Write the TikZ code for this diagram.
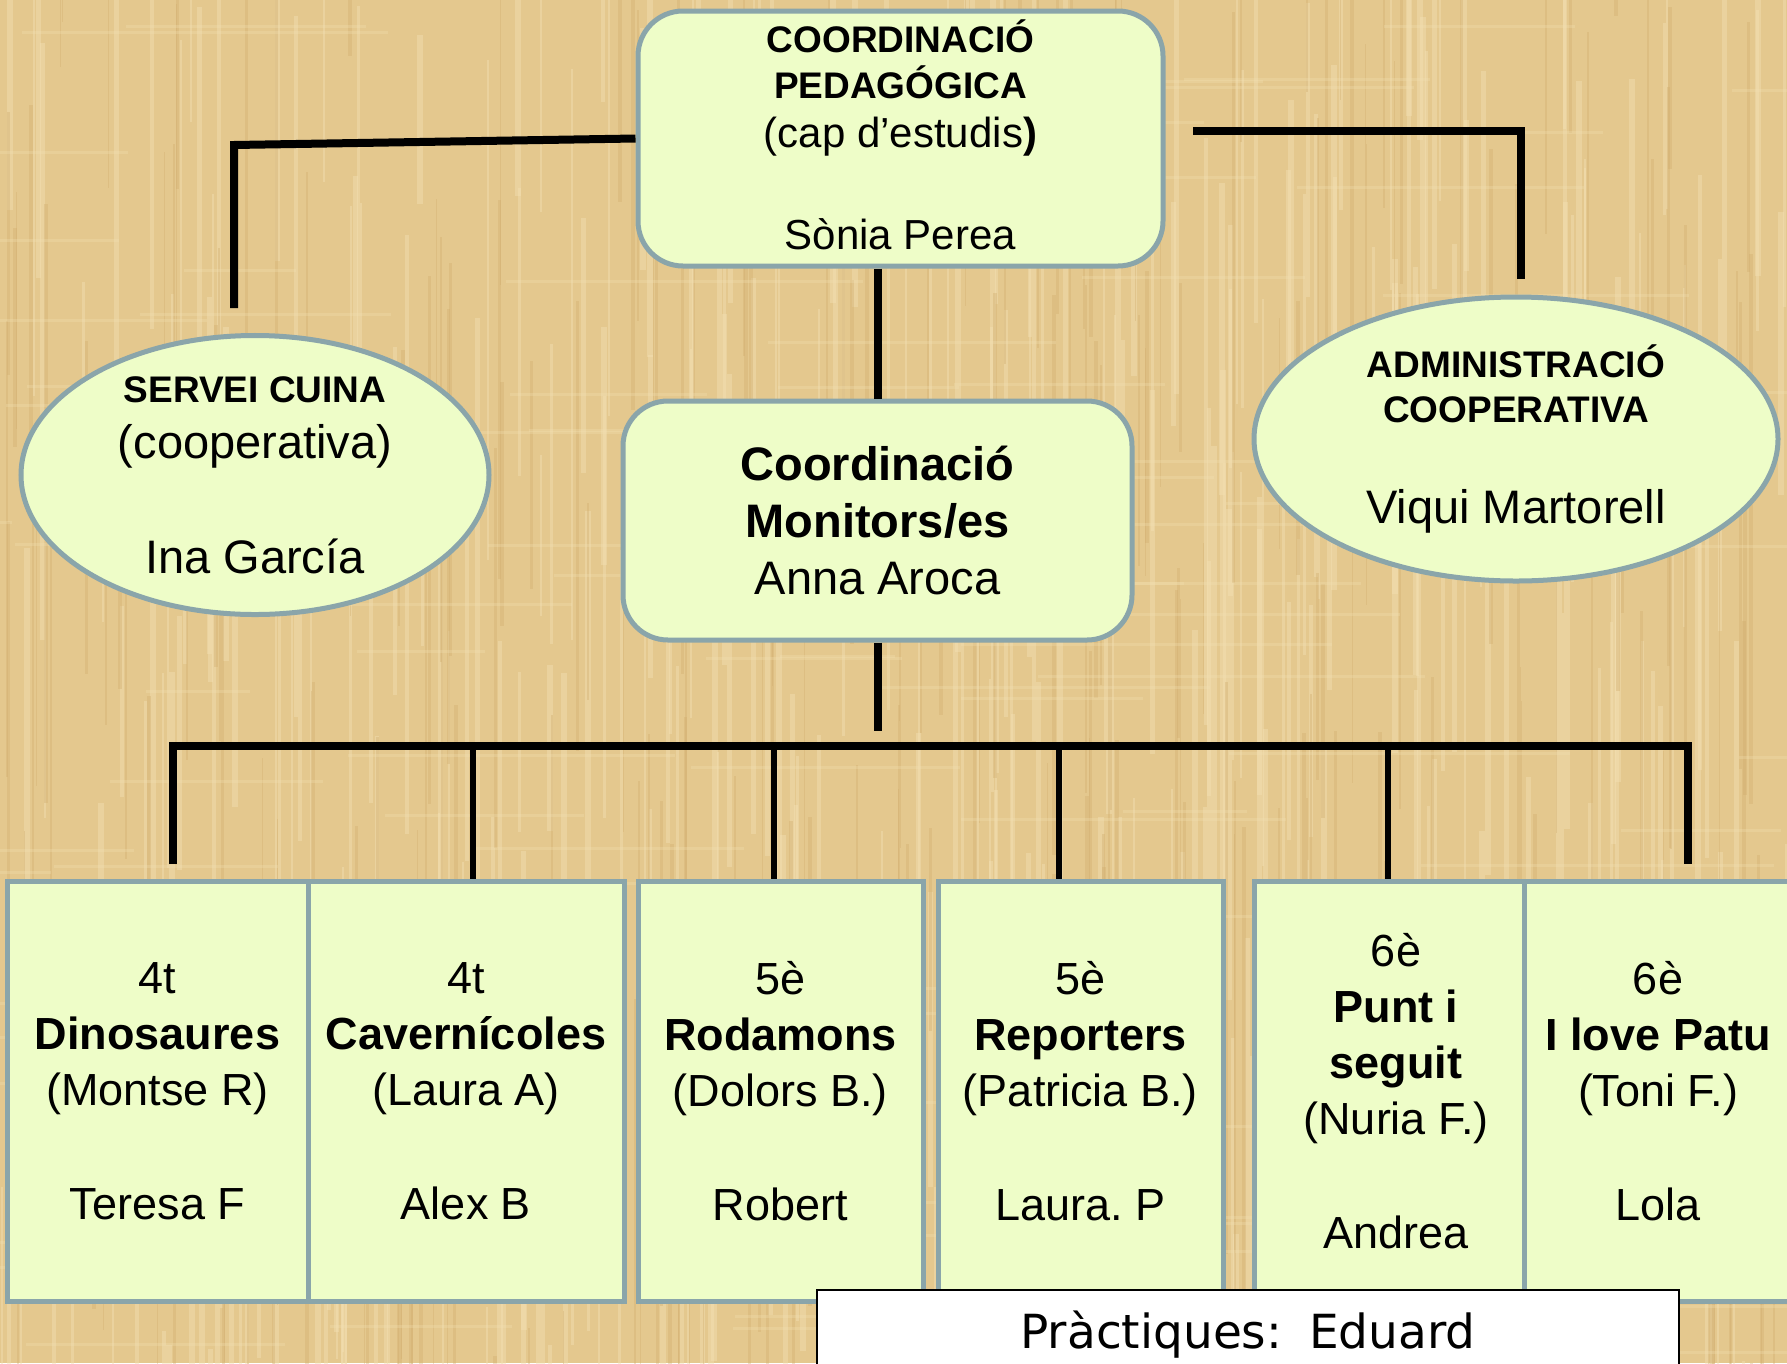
\documentclass[tikz,border=0pt]{standalone}
\usepackage{fontspec}
\setmainfont{Liberation Sans}
\newfontfamily\notefont{DejaVu Sans}
\usetikzlibrary{shapes.geometric}

\definecolor{papyrus}{RGB}{228,200,142}
\definecolor{papyruslight}{RGB}{243,224,178}
\definecolor{papyrusdark}{RGB}{208,172,108}
\definecolor{boxfill}{RGB}{238,253,200}
\definecolor{boxline}{RGB}{138,165,170}

\newcommand\hdr{\fontsize{37}{45}\selectfont\bfseries}
\frenchspacing

\tikzset{
    unit/.style={draw=boxline, fill=boxfill, line width=5pt, inner sep=0pt, align=center},
    roundbox/.style={unit, rounded corners=45pt},
    oval/.style={unit, ellipse},
    cell/.style={unit, minimum height=420pt, font=\fontsize{45}{56}\selectfont},
    link/.style={line width=8pt},
    drop/.style={line width=6pt}
}

\begin{document}
\begin{tikzpicture}[x=1pt, y=-1pt]
    % Page and papyrus background
    \useasboundingbox (0,0) rectangle (1787,1363);
    \fill[papyrus] (0,0) rectangle (1787,1363);
    \pgfmathsetseed{7}
    \foreach \i in {1,...,420}{
        \pgfmathrandominteger{\sx}{0}{1787}
        \pgfmathrandominteger{\sy}{-200}{1363}
        \pgfmathrandominteger{\sw}{2}{6}
        \pgfmathrandominteger{\sl}{150}{600}
        \fill[papyruslight, opacity=0.45] (\sx,\sy) rectangle ++(\sw,\sl);
    }
    \foreach \i in {1,...,300}{
        \pgfmathrandominteger{\sx}{0}{1787}
        \pgfmathrandominteger{\sy}{-200}{1363}
        \pgfmathrandominteger{\sw}{1}{4}
        \pgfmathrandominteger{\sl}{150}{600}
        \fill[papyrusdark, opacity=0.35] (\sx,\sy) rectangle ++(\sw,\sl);
    }
    \foreach \i in {1,...,120}{
        \pgfmathrandominteger{\sx}{-200}{1787}
        \pgfmathrandominteger{\sy}{0}{1363}
        \pgfmathrandominteger{\sl}{100}{400}
        \fill[papyruslight, opacity=0.3] (\sx,\sy) rectangle ++(\sl,3);
    }

    % Draw top box
    \node[roundbox, minimum width=525pt, minimum height=255pt,
          font=\fontsize{42}{46}\selectfont] (pedag) at (900.5,138.5)
        {{\hdr COORDINACIÓ}\\{\hdr PEDAGÓGICA}\\[3pt]
         (cap d’estudis\textbf{)}\\[56pt]Sònia Perea\rule[-8pt]{0pt}{8pt}};

    % Draw side ovals
    \node[oval, minimum width=468pt, minimum height=270pt,
          font=\fontsize{47}{56}\selectfont] (cuina) at (255,475)
        {{\hdr SERVEI CUINA}\\(cooperativa)\\[59pt]Ina García};
    \node[oval, minimum width=524pt, minimum height=284pt,
          font=\fontsize{47}{45}\selectfont] (admin) at (1516,439)
        {{\hdr ADMINISTRACIÓ}\\{\hdr COOPERATIVA}\\[56pt]Viqui Martorell};

    % Draw monitors box
    \node[roundbox, minimum width=509pt, minimum height=239pt,
          font=\fontsize{47}{57}\selectfont] (monitors) at (877.5,520.5)
        {\textbf{Coordinació}\\\textbf{Monitors/es}\\Anna Aroca};

    % Draw group cells
    \node[cell, minimum width=301pt] (dino) at (157.5,1091)
        {4t\\\textbf{Dinosaures}\\(Montse R)\\[58pt]Teresa F};
    \node[cell, minimum width=316pt] (cave) at (466,1091)
        {4t\\\textbf{Cavernícoles}\\(Laura A)\\[58pt]Alex B};
    \node[cell, minimum width=285pt] (roda) at (780.5,1091)
        {5è\\\textbf{Rodamons}\\(Dolors B.)\\[58pt]Robert};
    \node[cell, minimum width=285pt] (repo) at (1080.5,1091)
        {5è\\\textbf{Reporters}\\(Patricia B.)\\[58pt]Laura. P};
    \node[cell, minimum width=270pt] (punt) at (1389,1091)
        {\hspace*{14pt}6è\\\hspace*{14pt}\textbf{Punt i}\\\hspace*{14pt}\textbf{seguit}\\
         \hspace*{14pt}(Nuria F.)\\[58pt]\hspace*{14pt}Andrea};
    \node[cell, minimum width=268pt] (patu) at (1658,1091)
        {6è\\\textbf{I love Patu}\\(Toni F.)\\[58pt]Lola};

    % Draw upper connectors
    \coordinate (cuinaCorner) at (234,145);
    \coordinate (cuinaEnd) at (234,308);
    \coordinate (adminStart) at (1193,131);
    \coordinate (adminEnd) at (1521,279);
    \draw[link] (pedag.west) -- (cuinaCorner) -- (cuinaEnd);
    \draw[link] (adminStart) -- (adminStart -| adminEnd) -- (adminEnd);
    \draw[link] (pedag.south -| monitors.north) -- (monitors.north);

    % Draw bus to the groups
    \coordinate (monEnd) at (877.5,731);
    \coordinate (busL) at (173,746);
    \coordinate (busR) at (1688,746);
    \draw[link] (monitors.south) -- (monEnd);
    \draw[link] (busL) ++(0,118) -- (busL) -- (busR) -- ++(0,118);
    \foreach \bx/\cellname in {473/cave, 774/roda, 1059/repo, 1388/punt}{
        \coordinate (busX) at (\bx,746);
        \draw[drop] (busX) -- (busX |- \cellname.north);
    }

    % Draw trainee note
    \node[draw=black, fill=white, line width=2pt, minimum width=862pt,
          minimum height=90pt, inner sep=0pt, font=\notefont\fontsize{47}{50}\selectfont]
        (practica) at (1248,1335) {Pràctiques:\hspace{12pt} Eduard};
\end{tikzpicture}
\end{document}
